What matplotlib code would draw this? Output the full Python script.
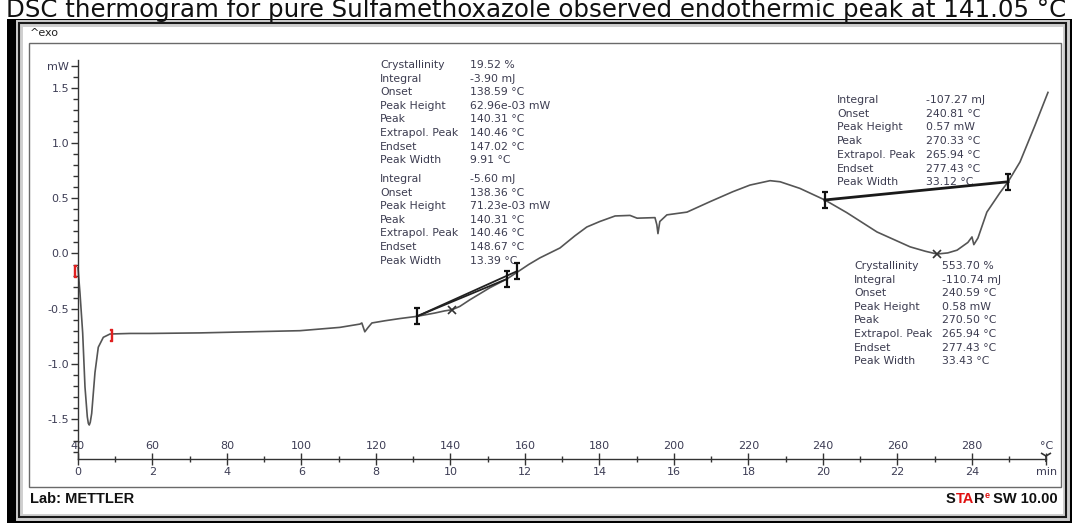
import matplotlib
matplotlib.use('Agg')
import matplotlib.pyplot as plt
import matplotlib.ticker as mticker
from matplotlib.patches import Rectangle
from matplotlib.path import Path
import numpy as np

# ---------------- data ----------------
temperature = [40.0, 40.54, 41.26, 41.88, 42.5, 42.78, 43.03, 43.3, 43.68, 44.56, 45.45,
               46.8, 48.6, 54.0, 59.3, 72.8, 86.2, 99.6, 110.3, 115.7, 116.2, 117.0,
               117.9, 118.9, 122.4, 126.4, 131.0, 135.8, 138.5, 140.4, 142.5, 145.2,
               150.6, 155.2, 157.9, 161.0, 164.0, 169.4, 173.4, 176.6, 180.1, 184.2,
               188.2, 190.1, 194.9, 195.4, 195.7, 196.2, 198.1, 203.5, 209.7, 215.8,
               220.4, 225.8, 228.5, 233.8, 240.5, 246.4, 254.5, 263.4, 267.5, 270.6,
               273.5, 276.0, 278.9, 280.0, 280.5, 281.6, 284.0, 287.5, 289.7, 292.9,
               296.9, 300.4]
heat_flow = [-0.13, -0.36, -0.72, -1.21, -1.48, -1.54, -1.555, -1.53, -1.45, -1.08, -0.85,
             -0.76, -0.73, -0.725, -0.725, -0.72, -0.71, -0.70, -0.67, -0.64, -0.63, -0.71,
             -0.67, -0.63, -0.61, -0.59, -0.57, -0.54, -0.52, -0.51, -0.48, -0.42,
             -0.31, -0.23, -0.17, -0.10, -0.04, 0.05, 0.16, 0.24, 0.29, 0.34,
             0.345, 0.32, 0.325, 0.26, 0.18, 0.29, 0.35, 0.375, 0.47, 0.56,
             0.62, 0.66, 0.65, 0.59, 0.485, 0.37, 0.195, 0.06, 0.02, -0.005,
             0.005, 0.03, 0.10, 0.15, 0.08, 0.14, 0.375, 0.55, 0.65, 0.83,
             1.16, 1.46]

# integration limits / baselines
limits1_T = [131.0, 155.2, 157.9]
limits1_mW = [-0.57, -0.23, -0.16]
limits2_T = [240.5, 289.7]
limits2_mW = [0.485, 0.65]
peaks_T = [140.4, 270.6]
peaks_mW = [-0.51, -0.005]
red_limits_T = [39.3, 48.8]
red_limits_mW = [-0.16, -0.74]

temp_ticks = [40, 60, 80, 100, 120, 140, 160, 180, 200, 220, 240, 260, 280, 300]
temp_labels = ['40', '60', '80', '100', '120', '140', '160', '180', '200', '220',
               '240', '260', '280', '°C']
time_ticks = [0, 2, 4, 6, 8, 10, 12, 14, 16, 18, 20, 22, 24, 26]
time_labels = ['0', '2', '4', '6', '8', '10', '12', '14', '16', '18', '20', '22', '24', 'min']
mw_ticks = [-1.5, -1.0, -0.5, 0.0, 0.5, 1.0, 1.5, 1.7]
mw_labels = ['-1.5', '-1.0', '-0.5', '0.0', '0.5', '1.0', '1.5', 'mW']

block1_labels = ['Crystallinity', 'Integral', 'Onset', 'Peak Height', 'Peak',
                 'Extrapol. Peak', 'Endset', 'Peak Width']
block1_values = ['19.52 %', '-3.90 mJ', '138.59 °C', '62.96e-03 mW', '140.31 °C',
                 '140.46 °C', '147.02 °C', '9.91 °C']
block2_labels = ['Integral', 'Onset', 'Peak Height', 'Peak', 'Extrapol. Peak',
                 'Endset', 'Peak Width']
block2_values = ['-5.60 mJ', '138.36 °C', '71.23e-03 mW', '140.31 °C', '140.46 °C',
                 '148.67 °C', '13.39 °C']
block3_labels = ['Integral', 'Onset', 'Peak Height', 'Peak', 'Extrapol. Peak',
                 'Endset', 'Peak Width']
block3_values = ['-107.27 mJ', '240.81 °C', '0.57 mW', '270.33 °C', '265.94 °C',
                 '277.43 °C', '33.12 °C']
block4_labels = ['Crystallinity', 'Integral', 'Onset', 'Peak Height', 'Peak',
                 'Extrapol. Peak', 'Endset', 'Peak Width']
block4_values = ['553.70 %', '-110.74 mJ', '240.59 °C', '0.58 mW', '270.50 °C',
                 '265.94 °C', '277.43 °C', '33.43 °C']

title = 'DSC thermogram for pure Sulfamethoxazole observed endothermic peak at 141.05 °C'

# ---------------- figure ----------------
W, H = 1072, 527
fig = plt.figure(figsize=(W / 100, H / 100), dpi=100)
fig.patch.set_facecolor('white')


def fx(x):
    return x / W


def fy(y):
    return 1 - y / H


def rect(x0, y0, x1, y1, **kw):
    fig.patches.append(Rectangle((fx(x0), fy(y1)), (x1 - x0) / W, (y1 - y0) / H,
                                 transform=fig.transFigure, figure=fig, **kw))


def ftext(x, y, s, **kw):
    return fig.text(fx(x), fy(y), s, **kw)


# frame
rect(7, 19, 1072, 523, facecolor='black', edgecolor='none', zorder=-3)
rect(19, 23, 1066, 517, facecolor='white', edgecolor='#cfcfcf', lw=5, zorder=-2.5)
rect(19, 23, 1066, 517, facecolor='none', edgecolor='#1a1a1a', lw=1.5, zorder=-2.4)
rect(29, 43, 1061, 487, facecolor='white', edgecolor='#6a6a6a', lw=1.0, zorder=-2.3)

# title
r = fig.canvas.get_renderer()
t_probe = fig.text(0, 0, title, fontsize=16, family='DejaVu Sans')
w0 = t_probe.get_window_extent(r).width
t_probe.remove()
fs = 16 * 1062 / w0
ftext(536, 17.5, title, fontsize=fs, family='DejaVu Sans', color='#111111',
      va='baseline', ha='center')

# axes in data units
ax = fig.add_axes([fx(29), fy(487), (1061 - 29) / W, (487 - 43) / H])
ax.set_zorder(5)
ax.set_xlim(26.85, 303.9)
ax.set_ylim(-2.117, 1.908)
ax.patch.set_visible(False)
ax_y0 = -1.863
lab_col = '#3d3d55'
for s in ['right', 'bottom']:
    ax.spines[s].set_visible(False)
ax.spines['left'].set_position(('data', 40))
ax.spines['left'].set_bounds(ax_y0, 1.75)
ax.spines['top'].set_position(('data', ax_y0))
ax.spines['top'].set_bounds(40, 300)
for s in ['left', 'top']:
    ax.spines[s].set_color('#333333')
    ax.spines[s].set_linewidth(1.0)

ax.xaxis.set_ticks_position('top')
ax.set_xticks(temp_ticks)
ax.set_xticklabels(temp_labels)
ax.xaxis.set_minor_locator(mticker.FixedLocator([50 + 20 * i for i in range(13)]))
ax.tick_params(axis='x', which='major', direction='inout', length=8, width=1,
               color='#333333', pad=2, labelsize=8, labelcolor=lab_col)
ax.tick_params(axis='x', which='minor', direction='inout', length=5, width=1, color='#333333')

ax.set_yticks(mw_ticks)
ax.set_yticklabels(mw_labels)
ax.yaxis.set_minor_locator(mticker.FixedLocator(np.round(np.arange(-1.8, 1.75, 0.1), 2)))
ax.tick_params(axis='y', which='major', direction='out', length=5, width=1,
               color='#333333', pad=1.5, labelsize=8, labelcolor=lab_col)
ax.tick_params(axis='y', which='minor', direction='out', length=3.5, width=1, color='#333333')

loc = (ax_y0 - (-2.117)) / (1.908 + 2.117)
sec = ax.secondary_xaxis(loc, functions=(lambda T: (np.asarray(T) - 40) / 10.0,
                                         lambda t: np.asarray(t) * 10.0 + 40))
sec.set_xticks(time_ticks)
sec.set_xticklabels(time_labels)
sec.tick_params(axis='x', length=0, pad=6, labelsize=8, labelcolor=lab_col)
sec.spines['bottom'].set_visible(False)
sec.xaxis.set_minor_locator(mticker.NullLocator())

# end-of-axis marker
ax.plot([300], [ax_y0 + 0.03], marker='1', markersize=9, mew=1.2, color='#333333',
        clip_on=False)

# curve
ax.plot(temperature, heat_flow, color='#555555', lw=1.2, solid_joinstyle='round')

# baselines
ax.plot([limits1_T[0], limits1_T[1]], [limits1_mW[0], limits1_mW[1]], color='#222222', lw=1.3)
ax.plot([limits1_T[0], limits1_T[2]], [limits1_mW[0], limits1_mW[2]], color='#222222', lw=1.3)
ax.plot(limits2_T, limits2_mW, color='#1a1a1a', lw=2.0)

# bracket markers
bracket = Path([(0, -1), (0, 1), (-0.45, 1), (0.45, 1), (-0.45, -1), (0.45, -1)],
               [Path.MOVETO, Path.LINETO, Path.MOVETO, Path.LINETO, Path.MOVETO, Path.LINETO])
ax.plot(limits1_T, limits1_mW, ls='none', marker=bracket, markersize=11, mew=1.6,
        color='#111111')
ax.plot(limits2_T, limits2_mW, ls='none', marker=bracket, markersize=11, mew=1.6,
        color='#111111')
ax.plot(peaks_T, peaks_mW, ls='none', marker='x', markersize=6, mew=1.2, color='#333333')
ax.plot(red_limits_T[:1], red_limits_mW[:1], ls='none', marker='$[$', markersize=8,
        color='#e02020', clip_on=False)
ax.plot(red_limits_T[1:], red_limits_mW[1:], ls='none', marker='$]$', markersize=8,
        color='#e02020', clip_on=False)

# result blocks
txt_col = '#3c3c50'
fsb = 7.8


def block(x_lab, x_val, y_first, step, labels, values):
    for i, (l, v) in enumerate(zip(labels, values)):
        ftext(x_lab, y_first + i * step, l, fontsize=fsb, color=txt_col, va='center')
        ftext(x_val, y_first + i * step, v, fontsize=fsb, color=txt_col, va='center')


block(380, 470, 65, 13.6, block1_labels, block1_values)
block(380, 470, 179, 13.6, block2_labels, block2_values)
block(837, 926, 100, 13.7, block3_labels, block3_values)
block(854, 942, 266, 13.6, block4_labels, block4_values)

# header / footer texts
ftext(30, 33, '^exo', fontsize=8, color='#222222', va='center')
ftext(30, 499, 'Lab: METTLER', fontsize=10.5, fontweight='bold', family='Liberation Sans',
      color='#111111', va='center')

pieces = [('S', '#111111', 10.5, 0), ('TA', '#e01010', 10.5, 0), ('R', '#111111', 10.5, 0),
          ('e', '#e01010', 6.5, 4), (' SW 10.00', '#111111', 10.5, 0)]
objs = []
for s, c, f, dy in pieces:
    t = fig.text(0, 0, s, fontsize=f, fontweight='bold', family='Liberation Sans', color=c,
                 va='center')
    objs.append((t, dy))
widths = [t.get_window_extent(r).width for t, _ in objs]
x = 1058 - sum(widths)
for (t, dy), w in zip(objs, widths):
    t.set_position((fx(x), fy(499 - dy)))
    x += w

fig.savefig('out.png', dpi=100, facecolor='white')
